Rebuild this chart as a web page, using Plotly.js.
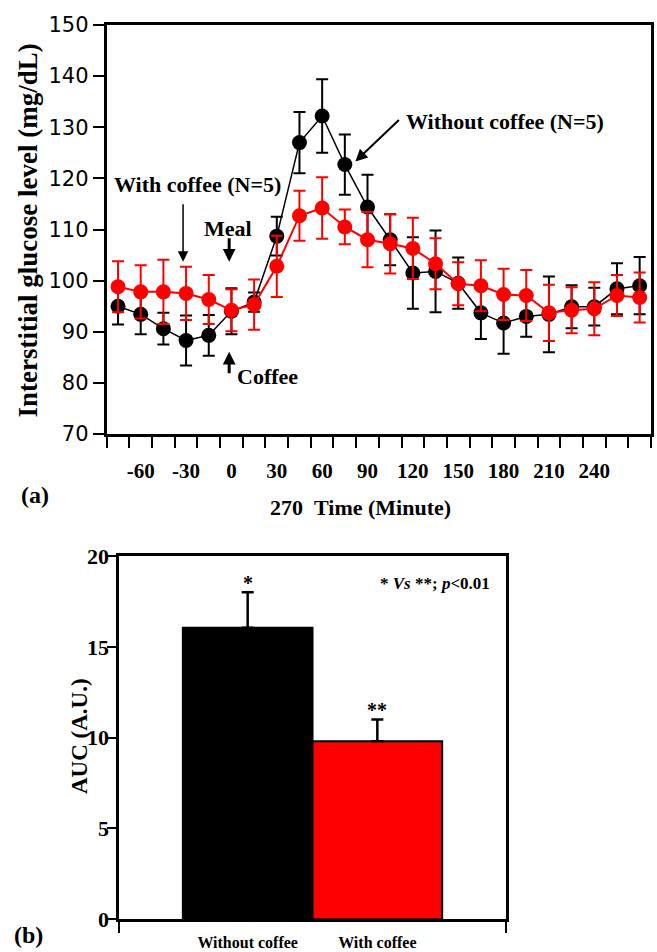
<!DOCTYPE html>
<html>
<head>
<meta charset="utf-8">
<script src="https://cdn.plot.ly/plotly-3.0.1.min.js"></script>
<style>html,body{margin:0;padding:0;background:#fff;}#chart{width:657px;height:952px;}</style>
</head>
<body>
<div id="chart"></div>
<script>
// ---- Panel (a): interstitial glucose over time ----
const timeMin = [-75, -60, -45, -30, -15, 0, 15, 30, 45, 60, 75, 90, 105, 120, 135, 150, 165, 180, 195, 210, 225, 240, 255, 270];
const withoutCoffee = [95.0, 93.4, 90.6, 88.3, 89.3, 94.0, 95.8, 108.7, 127.0, 132.2, 122.7, 114.4, 108.0, 101.5, 101.8, 99.5, 93.7, 91.7, 93.0, 93.4, 94.9, 94.9, 98.4, 99.0];
const withoutCoffeeErr = [3.6, 3.9, 3.1, 4.9, 4.0, 4.5, 1.9, 3.8, 6.0, 7.2, 5.9, 6.3, 5.0, 7.0, 8.0, 5.0, 5.1, 6.0, 4.0, 7.4, 4.2, 3.7, 5.0, 5.6];
const withCoffee = [98.8, 97.8, 97.8, 97.5, 96.3, 94.2, 95.3, 102.8, 112.7, 114.2, 110.5, 108.0, 107.2, 106.3, 103.3, 99.4, 99.0, 97.3, 97.1, 93.7, 94.2, 94.5, 97.1, 96.7];
const withCoffeeErr = [5.0, 5.2, 6.3, 5.2, 4.8, 4.1, 4.9, 6.0, 4.9, 6.0, 3.4, 5.4, 5.8, 6.0, 5.0, 4.2, 5.0, 5.0, 5.0, 5.5, 4.5, 5.2, 4.0, 4.9];
const timeTickVals = [-60, -30, 0, 30, 60, 90, 120, 150, 180, 210, 240];
const timeTickLabels = ['-60', '-30', '0', '30', '60', '90', '120', '150', '180', '210', '240'];

// ---- Panel (b): AUC ----
const groups = ['Without coffee', 'With coffee'];
const auc = [16.05, 9.8];
const aucErr = [1.95, 1.2];
const groupMarks = ['*', '**'];

const SERIF = 'Liberation Serif, Times New Roman, serif';
const BLACK = '#000000';
const RED = '#ff0000';
const W = 657, H = 952;
const px = v => v / W;
const py = v => 1 - v / H;

const traces = [
  {
    type: 'scatter', mode: 'lines+markers', name: 'Without coffee',
    x: timeMin, y: withoutCoffee, xaxis: 'x', yaxis: 'y',
    line: {color: BLACK, width: 1.5},
    marker: {color: BLACK, size: 15},
    error_y: {type: 'data', array: withoutCoffeeErr, visible: true, color: BLACK, thickness: 2, width: 6}
  },
  {
    type: 'scatter', mode: 'lines+markers', name: 'With coffee',
    x: timeMin, y: withCoffee, xaxis: 'x', yaxis: 'y',
    line: {color: RED, width: 2},
    marker: {color: RED, size: 15},
    error_y: {type: 'data', array: withCoffeeErr, visible: true, color: RED, thickness: 2, width: 6}
  },
  {
    type: 'bar', name: 'AUC',
    x: groups.map((g, i) => i), y: auc, width: groups.map(() => 1),
    xaxis: 'x2', yaxis: 'y2',
    marker: {color: [BLACK, RED], line: {color: BLACK, width: 2}},
    error_y: {type: 'data', symmetric: false, array: aucErr, arrayminus: aucErr.map(() => 0),
              visible: true, color: BLACK, thickness: 2.5, width: 6}
  }
];

const annFont = (size) => ({family: SERIF, size: size, color: BLACK, weight: 'bold'});

const annotations = [
  // panel (a)
  {xref: 'paper', yref: 'paper', x: px(27.5), y: py(231), text: 'Interstitial glucose level (mg/dL)',
   textangle: -90, showarrow: false, xanchor: 'center', yanchor: 'middle', font: annFont(27)},
  {xref: 'paper', yref: 'paper', x: px(360), y: py(507), text: '270\u00a0\u00a0Time (Minute)',
   showarrow: false, xanchor: 'center', yanchor: 'middle', font: annFont(22)},
  {xref: 'paper', yref: 'paper', x: px(35), y: py(495), text: '(a)',
   showarrow: false, xanchor: 'center', yanchor: 'middle', font: annFont(24)},
  {xref: 'paper', yref: 'paper', x: px(197), y: py(185), text: 'With coffee (N=5)',
   showarrow: false, xanchor: 'center', yanchor: 'middle', font: annFont(22)},
  {xref: 'x', yref: 'y', x: -32, y: 103.7, ax: 0, ay: -59, text: '',
   showarrow: true, arrowhead: 2, arrowsize: 1.4, arrowwidth: 1.5, arrowcolor: BLACK, standoff: 0},
  {xref: 'paper', yref: 'paper', x: px(228), y: py(228), text: 'Meal',
   showarrow: false, xanchor: 'center', yanchor: 'middle', font: annFont(22)},
  {xref: 'x', yref: 'y', x: -1.5, y: 103.7, ax: 0, ay: -25, text: '',
   showarrow: true, arrowhead: 2, arrowsize: 0.85, arrowwidth: 3, arrowcolor: BLACK, standoff: 0},
  {xref: 'paper', yref: 'paper', x: px(267), y: py(377), text: 'Coffee',
   showarrow: false, xanchor: 'center', yanchor: 'middle', font: annFont(22)},
  {xref: 'x', yref: 'y', x: -1.5, y: 86.1, ax: 0, ay: 23, text: '',
   showarrow: true, arrowhead: 2, arrowsize: 0.85, arrowwidth: 3, arrowcolor: BLACK, standoff: 0},
  {xref: 'paper', yref: 'paper', x: px(505), y: py(121), text: 'Without coffee (N=5)',
   showarrow: false, xanchor: 'center', yanchor: 'middle', font: annFont(22)},
  {xref: 'x', yref: 'y', x: 82, y: 123.3, ax: 45, ay: -43, text: '',
   showarrow: true, arrowhead: 2, arrowsize: 1.2, arrowwidth: 2, arrowcolor: BLACK, standoff: 0},
  // panel (b)
  {xref: 'paper', yref: 'paper', x: px(79), y: py(736), text: 'AUC (A.U.)',
   textangle: -90, showarrow: false, xanchor: 'center', yanchor: 'middle', font: annFont(23)},
  {xref: 'paper', yref: 'paper', x: px(28), y: py(935), text: '(b)',
   showarrow: false, xanchor: 'center', yanchor: 'middle', font: annFont(24)},
  {xref: 'paper', yref: 'paper', x: px(492), y: py(583), text: '* <i>Vs</i> **; <i>p</i>&lt;0.01',
   showarrow: false, xanchor: 'right', yanchor: 'middle', font: annFont(17)}
];
groups.forEach((g, i) => {
  annotations.push({xref: 'x2', yref: 'y2', x: i, y: auc[i] + aucErr[i], text: groupMarks[i],
    showarrow: false, xanchor: 'center', yanchor: 'bottom', yshift: -4, font: annFont(20)});
});

const axLine = {showline: true, linewidth: 3, linecolor: BLACK, mirror: true, showgrid: false, zeroline: false};

const layout = {
  width: W, height: H,
  margin: {l: 0, r: 0, t: 0, b: 0},
  paper_bgcolor: '#ffffff', plot_bgcolor: '#ffffff',
  showlegend: false,
  xaxis: Object.assign({}, axLine, {
    domain: [px(106.7), px(651)], anchor: 'y', range: [-82.5, 277.5],
    tickmode: 'array', tickvals: timeTickVals, ticktext: timeTickLabels,
    ticks: 'outside', ticklen: 16, tickwidth: 1, tickcolor: 'rgba(0,0,0,0)',
    tickfont: {family: SERIF, size: 21, color: BLACK, weight: 'bold'},
    minor: {tick0: -82.5, dtick: 15, ticks: 'outside', ticklen: 11, tickwidth: 2, tickcolor: BLACK, showgrid: false}
  }),
  yaxis: Object.assign({}, axLine, {
    domain: [py(434), py(25)], anchor: 'x', range: [70, 150],
    tick0: 70, dtick: 10, ticks: 'outside', ticklen: 11, tickwidth: 2, tickcolor: BLACK,
    tickfont: {family: 'DejaVu Sans, sans-serif', size: 21, color: BLACK}
  }),
  xaxis2: Object.assign({}, axLine, {
    domain: [px(119.3), px(505.7)], anchor: 'y2', range: [-0.99, 1.99],
    tickmode: 'array', tickvals: groups.map((g, i) => i), ticktext: groups,
    ticks: 'outside', ticklen: 6, tickwidth: 1, tickcolor: 'rgba(0,0,0,0)',
    tickfont: {family: SERIF, size: 16, color: BLACK, weight: 'bold'},
    minor: {tickmode: 'array', tickvals: [-0.99, 1.99], ticks: 'outside', ticklen: 11, tickwidth: 2, tickcolor: BLACK, showgrid: false}
  }),
  yaxis2: Object.assign({}, axLine, {
    domain: [py(919.3), py(556)], anchor: 'x2', range: [0, 20],
    tick0: 0, dtick: 5, ticks: 'outside', ticklen: 9, tickwidth: 2, tickcolor: BLACK,
    ticklabelstandoff: -6,
    tickfont: {family: SERIF, size: 22, color: BLACK, weight: 'bold'}
  }),
  annotations: annotations
};

Plotly.newPlot('chart', traces, layout, {staticPlot: true, displayModeBar: false});
</script>
</body>
</html>
